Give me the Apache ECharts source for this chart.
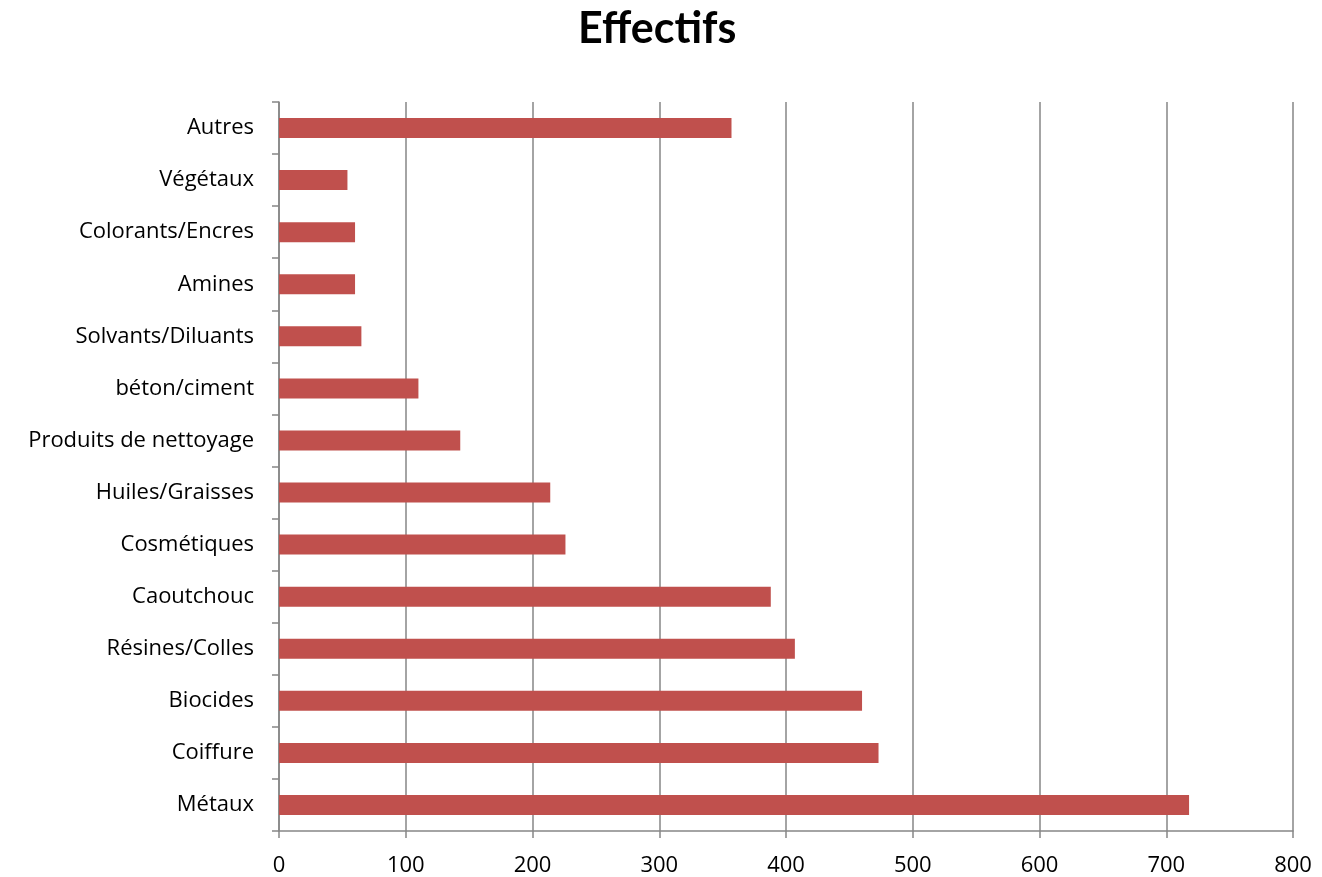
<!DOCTYPE html>
<html><head><meta charset="utf-8">
<script src="https://cdn.jsdelivr.net/npm/echarts@6/dist/echarts.min.js"></script>
<style>html,body{margin:0;padding:0;background:#fff}#c{width:1322px;height:877px}</style>
</head><body><div id="c"></div>
<script>
const categories = ["Métaux","Coiffure","Biocides","Résines/Colles","Caoutchouc","Cosmétiques","Huiles/Graisses","Produits de nettoyage","béton/ciment","Solvants/Diluants","Amines","Colorants/Encres","Végétaux","Autres"];
const values = [718,473,460,407,388,226,214,143,110,65,60,60,54,357];
const titleText = "Effectifs";

const chart = echarts.init(document.getElementById('c'), null, {renderer:'canvas'});
chart.setOption({
  animation:false,
  backgroundColor:'#fff',
  title:{text:titleText,left:573,top:3,textStyle:{fontFamily:'Lato',fontWeight:'bold',fontSize:43,color:'#000'}},
  grid:{left:279,right:29,top:102,bottom:46,containLabel:false},
  xAxis:{type:'value',min:0,max:800,interval:100,
    axisLine:{show:true,lineStyle:{color:'#868686',width:1.5}},
    axisTick:{show:true,length:7,lineStyle:{color:'#868686',width:1.5}},
    axisLabel:{fontFamily:'Open Sans',fontSize:22,color:'#000',margin:24},
    splitLine:{show:true,lineStyle:{color:'#868686',width:1.5}}},
  yAxis:{type:'category',data:categories,
    axisLine:{show:true,lineStyle:{color:'#868686',width:1.5}},
    axisTick:{show:true,length:7,lineStyle:{color:'#868686',width:1.5}},
    axisLabel:{fontFamily:'Open Sans',fontSize:22,color:'#000',margin:25,padding:[4,0,0,0]}},
  series:[{type:'bar',data:values,barWidth:20,itemStyle:{color:'#C0504D'}}]
});
</script></body></html>
